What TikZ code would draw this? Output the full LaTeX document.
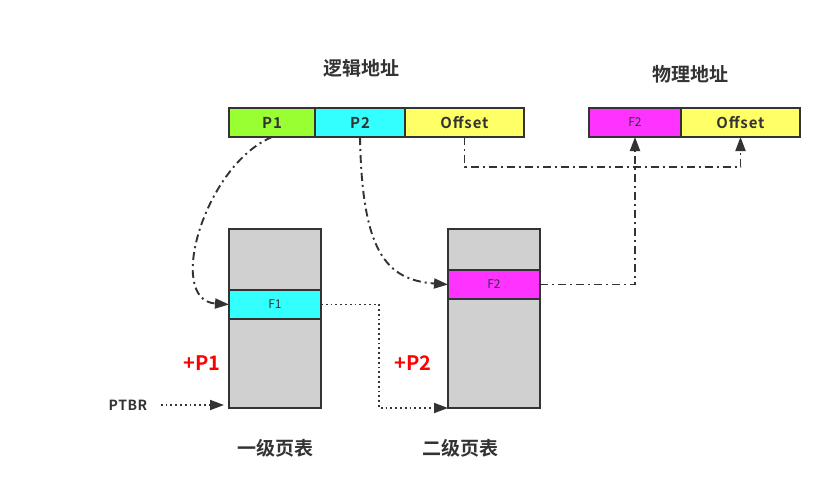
\documentclass[tikz,border=0pt]{standalone}
\usepackage{fontspec}
\setmainfont{Noto Sans CJK SC}[BoldFont={Noto Sans CJK SC Bold}]
\usepackage{tikz}
\usetikzlibrary{arrows.meta}
\usetikzlibrary{positioning}
\colorlet{background}{white}
\colorlet{penColor}{black!80}
\definecolor{fillGreen}{HTML}{99FF33}
\definecolor{fillCyan}{HTML}{33FFFF}
\definecolor{fillYellow}{HTML}{FFFF66}
\definecolor{fillMagenta}{HTML}{FF33FF}
\definecolor{fillGray}{HTML}{D0D0D0}
\tikzset{>={Triangle[length=14pt,width=10pt]},
  field/.style={draw=penColor,line width=1.8pt,minimum height=29pt,
    inner sep=0pt,outer sep=0pt,text=penColor,
    font=\bfseries\fontsize{15}{15}\selectfont\addfontfeature{LetterSpace=6}},
  frame/.style={field,font=\fontsize{12}{12}\selectfont},
  title/.style={text=penColor,font=\bfseries\fontsize{19}{19}\selectfont},
  offsetLabel/.style={text=red,font=\bfseries\fontsize{20}{20}\selectfont},
  dashdot/.style={draw=penColor,line width=1.9pt,dash pattern=on 8pt off 4pt on 2pt off 4pt},
  dots/.style={draw=penColor,line width=1.8pt,dash pattern=on 1.8pt off 3pt}}

\begin{document}
\begin{tikzpicture}[x=1pt,y=-1pt]
    \useasboundingbox[fill=background] (0,0) rectangle (832,500);

    % logical address
    \node[title] (logTitle) at (361,68) {逻辑地址};
    \node[field,fill=fillGreen,minimum width=86pt] (P1) at (272,122.5) {P1};
    \node[field,fill=fillCyan,minimum width=90pt,right=0pt of P1] (P2) {P2};
    \node[field,fill=fillYellow,minimum width=119pt,right=0pt of P2] (Off) {Offset};

    % physical address
    \node[title] (phyTitle) at (690,74) {物理地址};
    \node[frame,fill=fillMagenta,minimum width=92pt] (F2p) at (635,122.5) {F2};
    \node[field,fill=fillYellow,minimum width=119pt,right=0pt of F2p] (Offp) {Offset};

    % page tables
    \node[field,fill=fillGray,minimum width=92pt,minimum height=179pt] (T1) at (275,318.5) {};
    \node[frame,fill=fillCyan,minimum width=92pt] (F1) at (275,304.5) {F1};
    \node[field,fill=fillGray,minimum width=92pt,minimum height=179pt] (T2) at (494,318.5) {};
    \node[frame,fill=fillMagenta,minimum width=92pt] (F2) at (494,284.5) {F2};

    \node[title] (T1name) at (275,448) {一级页表};
    \node[title] (T2name) at (460,448) {二级页表};
    \node[offsetLabel] (plusP1) at (202,363) {+P1};
    \node[offsetLabel] (plusP2) at (413,363) {+P2};
    \node[text=penColor,font=\bfseries\fontsize{14}{14}\selectfont\addfontfeature{LetterSpace=4}] (ptbr) at (128,405) {PTBR};

    \draw[dashdot,->] (P1.south) .. controls (205,165) and (165,300) .. (F1.west);
    \draw[dashdot,->] (P2.south) .. controls (362,250) and (385,280) .. (F2.west);
    \draw[dashdot,->] (Off.south) -- ++(0,30) -| (Offp.south);
    \draw[dashdot,->] (F2.east) -| (F2p.south);

    \draw[dots,->] (F1.east) -- ++(58,0) |- (T2.south west);
    \draw[dots,->,shorten <=10pt,shorten >=5pt] (ptbr.east) -- (ptbr.east -| T1.south west);
\end{tikzpicture}
\end{document}
